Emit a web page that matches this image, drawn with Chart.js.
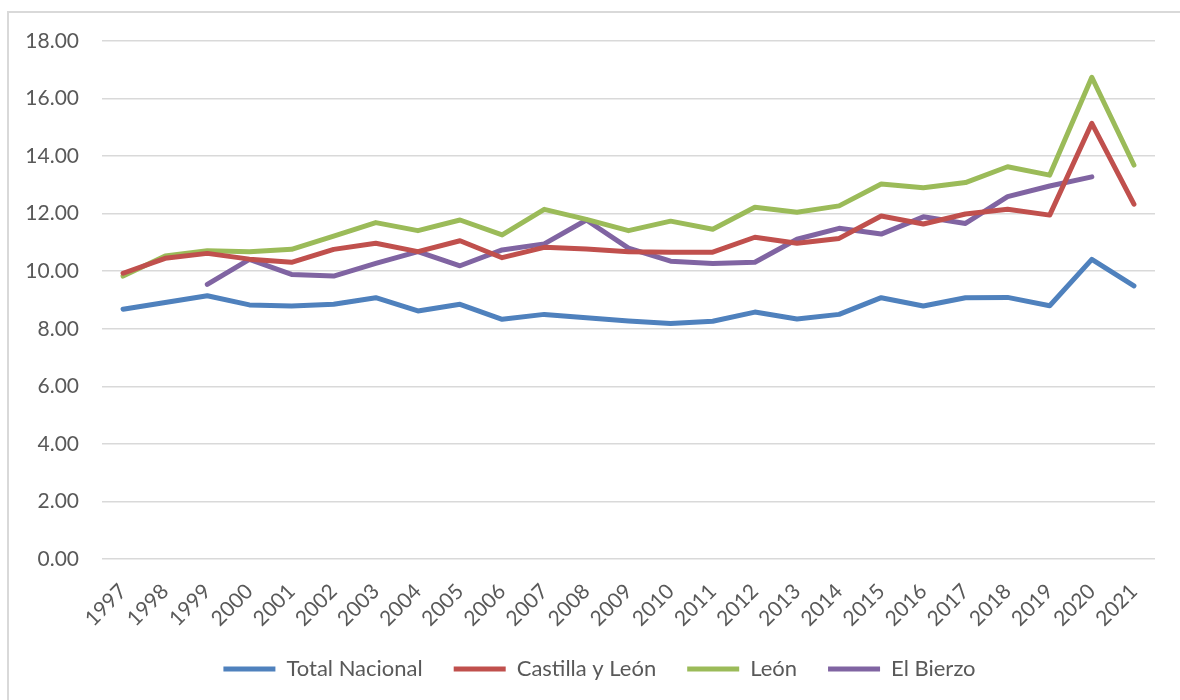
<!DOCTYPE html>
<html lang="es">
<head>
    <meta charset="UTF-8">
    <title>Evolución</title>
    <style>
        * {
            box-sizing: border-box;
            margin: 0;
            padding: 0;
        }
        body {
            background-color: #fff;
            width: 1180px;
            height: 700px;
            overflow: hidden;
            position: relative;
        }
        .frame {
            position: absolute;
            left: 7px;
            top: 11px;
            width: 1200px;
            height: 720px;
            border-left: 2px solid #d9d9d9;
            border-top: 2px solid #d9d9d9;
        }
        #chartContainer {
            position: absolute;
            left: 0;
            top: 0;
            width: 1180px;
            height: 700px;
        }
    </style>
    <script src="https://cdn.jsdelivr.net/npm/chart.js"></script>
</head>
<body>
    <div class="frame"></div>
    <div id="chartContainer">
        <canvas id="dataChart"></canvas>
    </div>

    <script>
        const years = ['1997', '1998', '1999', '2000', '2001', '2002', '2003', '2004', '2005',
            '2006', '2007', '2008', '2009', '2010', '2011', '2012', '2013', '2014', '2015',
            '2016', '2017', '2018', '2019', '2020', '2021'];

        const totalNacional = [8.68, 8.91, 9.15, 8.83, 8.79, 8.85, 9.08, 8.62, 8.85,
            8.33, 8.50, 8.38, 8.27, 8.18, 8.26, 8.58, 8.34, 8.50, 9.08,
            8.79, 9.08, 9.09, 8.80, 10.41, 9.49];
        const castillaLeon = [9.93, 10.45, 10.62, 10.42, 10.31, 10.76, 10.97, 10.68, 11.06,
            10.47, 10.83, 10.77, 10.68, 10.66, 10.66, 11.18, 10.97, 11.14, 11.92,
            11.64, 11.99, 12.15, 11.95, 15.14, 12.33];
        const leon = [9.83, 10.53, 10.71, 10.68, 10.76, 11.22, 11.69, 11.41, 11.78,
            11.26, 12.15, 11.80, 11.41, 11.74, 11.46, 12.22, 12.05, 12.27, 13.03,
            12.90, 13.08, 13.63, 13.34, 16.74, 13.69];
        const elBierzo = [null, null, 9.54, 10.41, 9.89, 9.83, 10.27, 10.68, 10.19,
            10.74, 10.95, 11.78, 10.80, 10.35, 10.27, 10.31, 11.11, 11.49, 11.29,
            11.89, 11.66, 12.59, 12.96, 13.28, null];

        const seriesNames = ['Total Nacional', 'Castilla y León', 'León', 'El Bierzo'];
        const seriesColors = ['#4f81bd', '#c0504d', '#9bbb59', '#8064a2'];
        const seriesData = [totalNacional, castillaLeon, leon, elBierzo];

        const textColor = '#595959';
        const fontFamily = 'Lato, "Liberation Sans", sans-serif';

        // Excel puts the legend a bit right of the middle and closer to the labels
        const legendShift = {
            id: 'legendShift',
            afterLayout(chart) {
                const lg = chart.legend;
                lg.left += 22;
                lg.right += 22;
                lg.top -= 10;
                lg.bottom -= 10;
            }
        };

        const ctx = document.getElementById('dataChart').getContext('2d');
        const chart = new Chart(ctx, {
            type: 'line',
            data: {
                labels: years,
                datasets: seriesNames.map((name, i) => ({
                    label: name,
                    data: seriesData[i],
                    borderColor: seriesColors[i],
                    backgroundColor: seriesColors[i],
                    borderWidth: 5,
                    borderCapStyle: 'round',
                    borderJoinStyle: 'round',
                    pointRadius: 0,
                    pointHoverRadius: 0,
                    tension: 0,
                    spanGaps: false
                }))
            },
            options: {
                responsive: true,
                maintainAspectRatio: false,
                animation: false,
                layout: {
                    padding: { left: 0, top: 41, right: 25, bottom: 0 }
                },
                scales: {
                    x: {
                        offset: true,
                        grid: { display: false },
                        border: { display: false },
                        ticks: {
                            color: textColor,
                            font: { family: fontFamily, size: 21 },
                            maxRotation: 45,
                            minRotation: 45,
                            autoSkip: false,
                            padding: 12
                        },
                        afterFit(scale) {
                            scale.height = 78;
                        }
                    },
                    y: {
                        min: 0,
                        max: 18,
                        grid: { color: '#d9d9d9', lineWidth: 1.5, drawTicks: false },
                        border: { display: false },
                        ticks: {
                            stepSize: 2,
                            color: textColor,
                            font: { family: fontFamily, size: 21 },
                            padding: 23,
                            callback: v => v.toFixed(2)
                        },
                        afterFit(scale) {
                            scale.width = 102;
                        }
                    }
                },
                plugins: {
                    legend: {
                        position: 'bottom',
                        labels: {
                            color: textColor,
                            font: { family: fontFamily, size: 22 },
                            usePointStyle: true,
                            pointStyle: 'line',
                            pointStyleWidth: 52,
                            padding: 31
                        }
                    },
                    tooltip: { enabled: false }
                }
            },
            plugins: [legendShift]
        });
    </script>
</body>
</html>
